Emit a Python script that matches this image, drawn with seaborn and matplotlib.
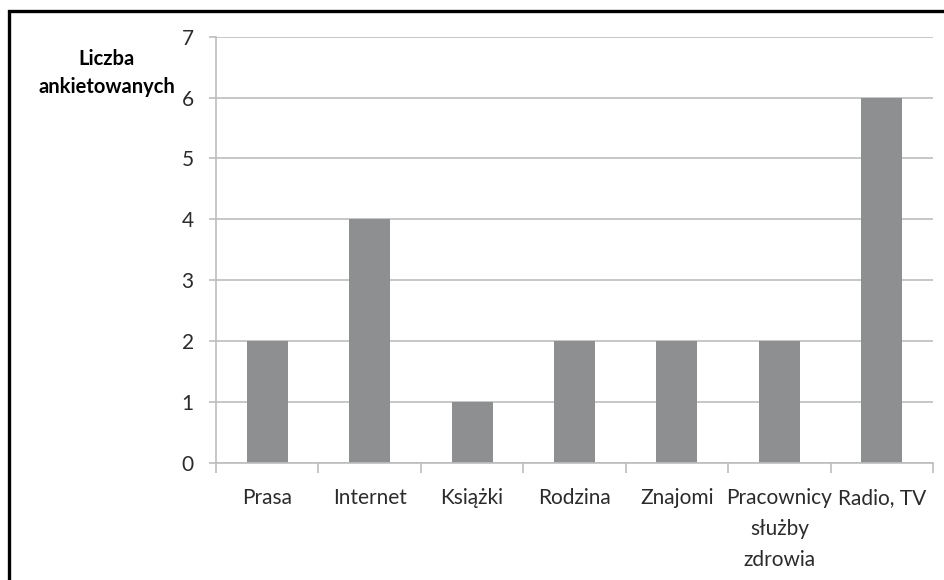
import matplotlib
matplotlib.use("Agg")
import matplotlib.pyplot as plt
from matplotlib.patches import Rectangle
from matplotlib.ticker import FixedLocator
import seaborn as sns
import pandas as pd

# Sources of information reported by respondents
categories = ["Prasa", "Internet", "Książki", "Rodzina", "Znajomi",
              "Pracownicy\nsłużby\nzdrowia", "Radio, TV"]
counts = [2, 4, 1, 2, 2, 2, 6]
y_ticks = [0, 1, 2, 3, 4, 5, 6, 7]

df = pd.DataFrame({"kategoria": categories, "liczba": counts})

sns.set_theme(style="white")
plt.rcParams["font.family"] = ["Lato", "DejaVu Sans"]

grid_col = "#BDBDBD"
bar_col = "#8E8F91"
text_col = "#2b2b2b"

fig = plt.figure(figsize=(9.45, 5.8), dpi=100)
ax = fig.add_axes([216 / 945, 1 - 462.7 / 580, (933 - 216) / 945, (462.7 - 36.7) / 580])

sns.barplot(data=df, x="kategoria", y="liczba", color=bar_col, width=0.4,
            saturation=1, edgecolor="none", ax=ax)

ax.set_ylim(0, 7)
ax.set_xlim(-0.5, len(categories) - 0.5)
ax.set_yticks(y_ticks)
ax.set_axisbelow(True)
ax.yaxis.grid(True, color=grid_col, linewidth=1.2)
ax.xaxis.grid(False)

for side in ("top", "right"):
    ax.spines[side].set_visible(False)
for side in ("left", "bottom"):
    ax.spines[side].set_color(grid_col)
    ax.spines[side].set_linewidth(1.2)

# category boundary ticks on the x axis
ax.xaxis.set_minor_locator(FixedLocator([i - 0.5 for i in range(len(categories) + 1)]))
ax.tick_params(axis="x", which="major", length=0, pad=18, labelsize=15,
               labelcolor=text_col)
ax.tick_params(axis="x", which="minor", bottom=True, length=7, width=1.2,
               color=grid_col, direction="out")
ax.tick_params(axis="y", left=True, length=5, width=1.2, color=grid_col,
               pad=11, labelsize=15, labelcolor=text_col)
for lbl in ax.get_xticklabels():
    lbl.set_linespacing(1.7)
    lbl.set_verticalalignment("top")

ax.set_xlabel("")
ax.set_ylabel("")
fig.text(107 / 945, 1 - 73 / 580, "Liczba\nankietowanych", ha="center", va="center",
         fontsize=14.5, fontweight="bold", color="black", linespacing=1.55)

# outer frame
fig.patches.append(Rectangle((9 / 945, -0.1), 1.2, 1 - 11 / 580 + 0.1,
                             transform=fig.transFigure, fill=False,
                             edgecolor="black", linewidth=2.4, zorder=10))

fig.savefig("out.png", dpi=100, facecolor="white")
